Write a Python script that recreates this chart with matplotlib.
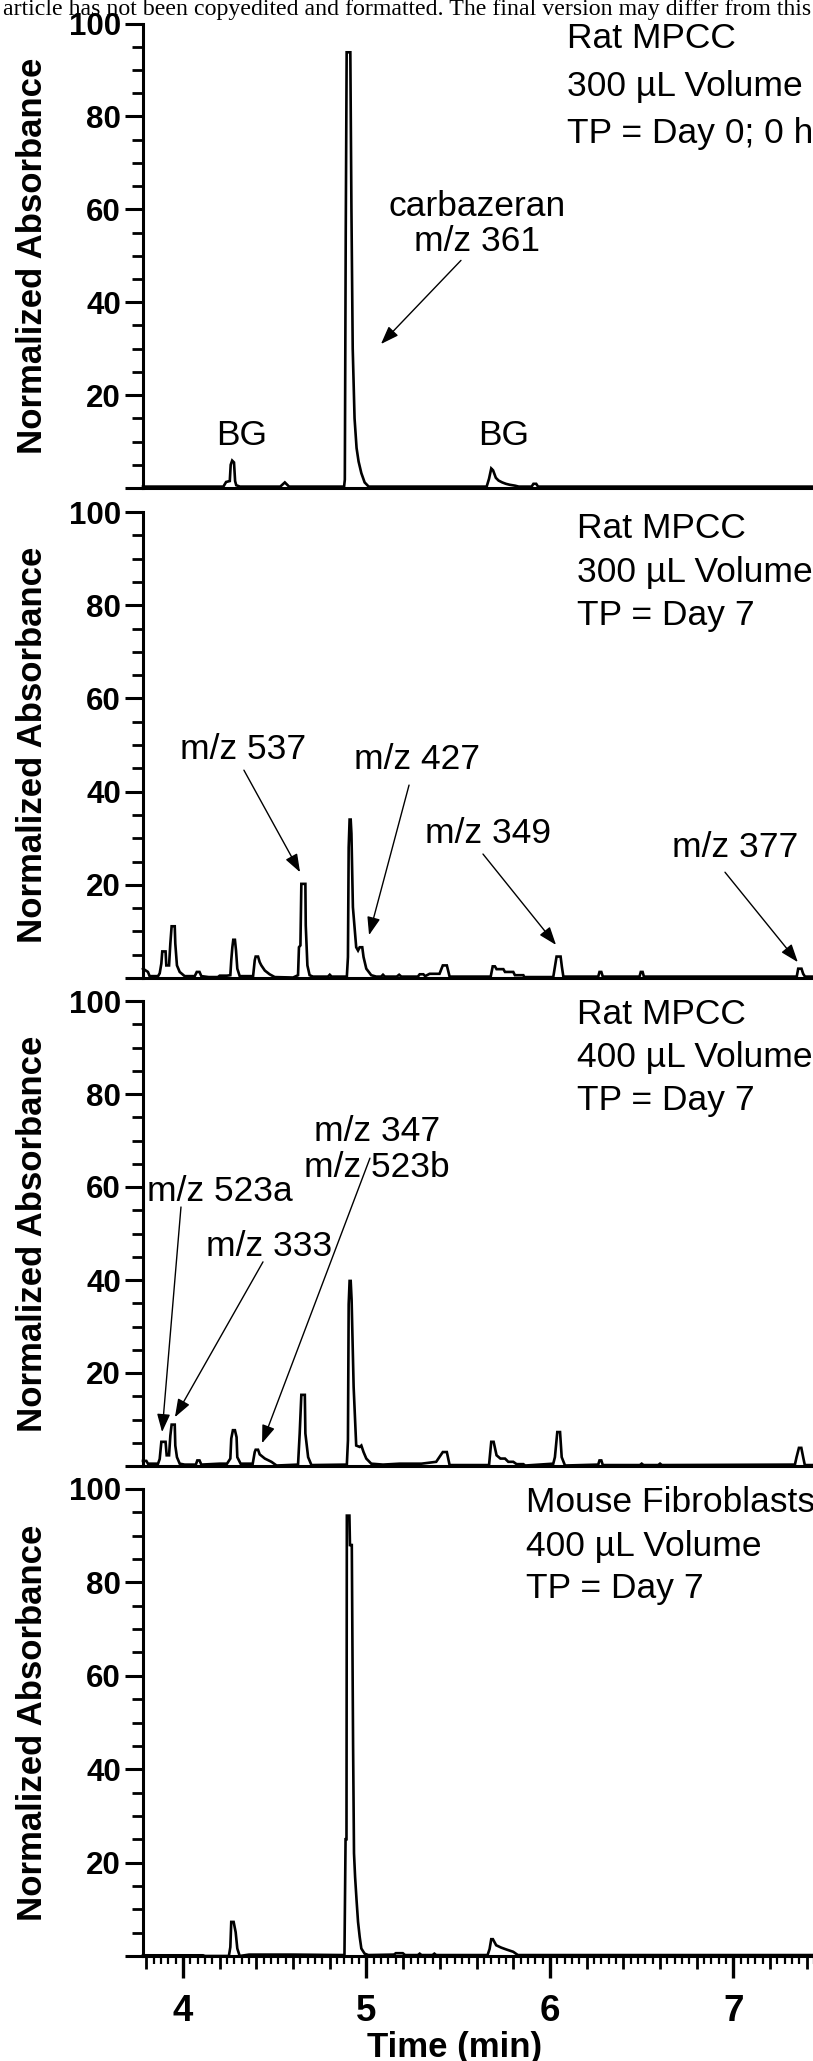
import numpy as np
import matplotlib as mpl
mpl.use("Agg")
import matplotlib.pyplot as plt
from matplotlib.ticker import FixedLocator, MultipleLocator, NullFormatter

W, H = 813, 2061
SANS = "Liberation Sans"

# chromatogram traces: (time min, normalized absorbance)
p1_trace = [(3.782, 0.3), (4.22, 0.3), (4.235, 1.3), (4.255, 1.5), (4.26, 5.0), (4.268, 5.9),
            (4.278, 5.5), (4.284, 1.5), (4.29, 0.6), (4.31, 0.3), (4.53, 0.3), (4.555, 1.2),
            (4.578, 0.3), (4.878, 0.3), (4.882, 1.8), (4.887, 55), (4.892, 93.8), (4.912, 93.8),
            (4.918, 60), (4.925, 30), (4.935, 15), (4.946, 8.6), (4.957, 5.7), (4.972, 3.2),
            (4.99, 1.2), (5.012, 0.3), (5.655, 0.3), (5.668, 2.0), (5.68, 4.2), (5.69, 3.8),
            (5.705, 2.2), (5.72, 1.6), (5.74, 1.2), (5.76, 0.9), (5.78, 0.7), (5.81, 0.5),
            (5.83, 0.3), (5.9, 0.3), (5.91, 0.9), (5.925, 0.9), (5.935, 0.3), (7.45, 0.3)]

p2_trace = [(3.782, 2.0), (3.809, 1.3), (3.818, 0.4), (3.864, 0.4), (3.873, 1.0), (3.882, 3.1),
            (3.887, 5.7), (3.905, 5.7), (3.909, 2.7), (3.924, 2.7), (3.931, 7.4), (3.938, 11.1),
            (3.955, 11.1), (3.958, 7.4), (3.967, 2.7), (3.982, 1.3), (4.009, 0.4), (4.064, 0.4),
            (4.075, 1.3), (4.09, 1.3), (4.1, 0.4), (4.14, 0.2), (4.19, 0.2), (4.2, 0.5),
            (4.24, 0.5), (4.258, 0.6), (4.263, 3.8), (4.269, 6.6), (4.274, 8.2), (4.283, 8.2),
            (4.289, 5.9), (4.296, 2.0), (4.309, 0.4), (4.382, 0.4), (4.391, 3.8), (4.396, 4.6),
            (4.409, 4.6), (4.418, 3.4), (4.427, 2.7), (4.446, 1.6), (4.472, 0.8), (4.5, 0.2),
            (4.6, 0.1), (4.627, 0.6), (4.632, 6.6), (4.64, 7.0), (4.645, 20.2), (4.667, 20.2),
            (4.669, 11.3), (4.678, 2.7), (4.69, 0.6), (4.708, 0.3), (4.79, 0.3), (4.8, 0.7),
            (4.81, 0.3), (4.893, 0.3), (4.899, 4.5), (4.903, 28), (4.908, 34), (4.914, 34),
            (4.918, 31), (4.926, 15.2), (4.944, 6.6), (4.954, 5.9), (4.963, 6.6), (4.977, 6.6),
            (4.984, 4.5), (4.999, 2.0), (5.026, 0.6), (5.053, 0.3), (5.08, 0.3), (5.09, 0.7),
            (5.1, 0.3), (5.165, 0.3), (5.178, 0.7), (5.19, 0.3), (5.28, 0.3), (5.29, 0.8),
            (5.31, 0.8), (5.32, 0.4), (5.344, 0.9), (5.398, 0.9), (5.416, 2.7), (5.438, 2.7),
            (5.453, 0.3), (5.677, 0.3), (5.688, 2.5), (5.7, 2.5), (5.709, 1.9), (5.746, 1.9),
            (5.755, 1.3), (5.8, 1.3), (5.809, 0.6), (5.855, 0.6), (5.86, 0.2), (6.018, 0.2),
            (6.027, 2.4), (6.036, 4.6), (6.058, 4.6), (6.065, 2.4), (6.073, 0.3), (6.263, 0.3),
            (6.27, 1.3), (6.28, 1.3), (6.288, 0.3), (6.488, 0.3), (6.495, 1.3), (6.505, 1.3),
            (6.512, 0.3), (7.345, 0.3), (7.353, 2.0), (7.371, 2.0), (7.38, 0.9), (7.39, 0.3),
            (7.45, 0.3)]

p3_trace = [(3.782, 1.1), (3.8, 1.1), (3.809, 0.5), (3.864, 0.5), (3.873, 1.5), (3.882, 5.2),
            (3.905, 5.2), (3.911, 2.3), (3.924, 2.3), (3.931, 6.5), (3.938, 8.9), (3.955, 8.9),
            (3.958, 4.4), (3.967, 1.9), (3.982, 0.5), (4.009, 0.3), (4.07, 0.3), (4.078, 1.2),
            (4.09, 1.2), (4.1, 0.3), (4.2, 0.5), (4.24, 0.5), (4.258, 1.6), (4.263, 5.9),
            (4.272, 7.7), (4.283, 7.7), (4.292, 6.2), (4.296, 1.9), (4.314, 0.5), (4.38, 0.5),
            (4.391, 3.0), (4.396, 3.5), (4.409, 3.5), (4.418, 2.5), (4.446, 1.6), (4.482, 0.9),
            (4.51, 0.1), (4.627, 0.3), (4.636, 7.0), (4.645, 15.3), (4.664, 15.3), (4.667, 7.0),
            (4.682, 1.9), (4.7, 0.2), (4.893, 0.3), (4.899, 5.5), (4.903, 34.8), (4.908, 39.8),
            (4.914, 39.8), (4.919, 35.7), (4.93, 17.0), (4.944, 4.4), (4.963, 4.1), (4.972, 4.4),
            (4.984, 3.0), (4.999, 1.6), (5.026, 0.5), (5.09, 0.3), (5.18, 0.5), (5.3, 0.5),
            (5.38, 0.9), (5.416, 3.0), (5.438, 3.0), (5.453, 0.2), (5.668, 0.2), (5.68, 5.2),
            (5.693, 5.2), (5.709, 2.3), (5.73, 1.6), (5.755, 1.6), (5.773, 0.9), (5.8, 0.9),
            (5.818, 0.4), (5.855, 0.4), (5.865, 0.1), (6.018, 0.5), (6.027, 1.9), (6.04, 7.3),
            (6.055, 7.3), (6.064, 1.9), (6.082, 0.1), (6.263, 0.3), (6.27, 1.2), (6.28, 1.2),
            (6.288, 0.2), (6.49, 0.2), (6.5, 0.5), (6.51, 0.2), (6.59, 0.2), (6.6, 0.5),
            (6.61, 0.2), (7.335, 0.3), (7.344, 1.9), (7.357, 3.9), (7.37, 3.9), (7.38, 1.9),
            (7.389, 0.2), (7.45, 0.2)]

p4_trace = [(3.782, 0.15), (4.109, 0.15), (4.12, 0.0), (4.25, 0.0), (4.258, 1.9), (4.263, 7.3),
            (4.276, 7.3), (4.287, 5.1), (4.296, 1.6), (4.309, 0.0), (4.36, 0.3), (4.44, 0.3),
            (4.6, 0.3), (4.88, 0.2), (4.886, 25), (4.891, 25), (4.893, 94.3), (4.907, 94.3),
            (4.91, 88), (4.92, 88), (4.927, 45), (4.932, 22), (4.938, 16.9), (4.946, 11.9),
            (4.954, 7.3), (4.963, 4.1), (4.972, 1.6), (4.99, 0.5), (5.01, 0.2), (5.15, 0.3),
            (5.16, 0.6), (5.198, 0.6), (5.21, 0.2), (5.28, 0.2), (5.29, 0.5), (5.3, 0.2),
            (5.36, 0.2), (5.37, 0.5), (5.38, 0.2), (5.66, 0.2), (5.671, 1.5), (5.68, 3.6),
            (5.689, 3.6), (5.707, 2.3), (5.734, 1.8), (5.762, 1.4), (5.8, 0.9), (5.825, 0.2),
            (7.45, 0.2)]

panel_titles = [
    ["Rat MPCC", "300 \u00b5L Volume", "TP = Day 0; 0 h"],
    ["Rat MPCC", "300 \u00b5L Volume", "TP = Day 7"],
    ["Rat MPCC", "400 \u00b5L Volume", "TP = Day 7"],
    ["Mouse Fibroblasts", "400 \u00b5L Volume", "TP = Day 7"],
]
y_ticks = [0, 20, 40, 60, 80, 100]
y_ticklabels = ["", "20", "40", "60", "80", "100"]

fig = plt.figure(figsize=(W / 100, H / 100), dpi=100)

# pixel boxes (top, bottom) of each panel
boxes = [(23.5, 488), (512, 978), (1001, 1466), (1489, 1956)]
left_px, right_px = 143, 816
xmin, xmax = 3.782, 7.45

axes = []
for top, bot in boxes:
    ax = fig.add_axes([left_px / W, 1 - bot / H, (right_px - left_px) / W, (bot - top) / H])
    ax.set_xlim(xmin, xmax)
    ax.set_ylim(0, 100)
    ax.patch.set_alpha(0)
    for s in ["top", "right"]:
        ax.spines[s].set_visible(False)
    for s in ["left", "bottom"]:
        ax.spines[s].set_linewidth(2.2)
    ax.set_yticks(y_ticks)
    ax.set_yticklabels(y_ticklabels, fontsize=22.5, fontweight="bold", family=SANS)
    ax.yaxis.set_minor_locator(MultipleLocator(5))
    ax.tick_params(axis="y", which="major", length=13, width=2.2, pad=3.0, direction="out")
    ax.tick_params(axis="y", which="minor", length=8, width=2.0, direction="out")
    ax.tick_params(axis="x", which="both", length=0, labelbottom=False)
    axes.append(ax)

traces = [p1_trace, p2_trace, p3_trace, p4_trace]
for ax, tr in zip(axes, traces):
    t, a = zip(*tr)
    ax.plot(t, a, color="black", lw=1.9, solid_joinstyle="miter", clip_on=False)

# bottom panel time axis: integer, 0.2 and 0.04 ticks
ax = axes[-1]
mid_locs = [round(v, 2) for v in np.arange(3.8, 7.45, 0.2)]
ax.xaxis.set_major_locator(FixedLocator(mid_locs))
ax.xaxis.set_minor_locator(MultipleLocator(0.04))
ax.xaxis.set_minor_formatter(NullFormatter())
ax.set_xticklabels([str(int(round(v))) if abs(v - round(v)) < 1e-6 else "" for v in mid_locs],
                   fontsize=26.5, fontweight="bold", family=SANS)
ax.tick_params(axis="x", which="major", length=9.5, width=2.0, pad=18, labelbottom=True)
ax.tick_params(axis="x", which="minor", length=5.8, width=1.6)
for v, tick in zip(mid_locs, ax.xaxis.get_major_ticks()):
    if abs(v - round(v)) < 1e-6:
        tick.tick1line.set_markersize(16)
        tick.tick1line.set_markeredgewidth(2.4)

# axis labels
for top, bot in boxes:
    fig.text(33 / W, 1 - (top + bot) / 2 / H, "Normalized Absorbance", rotation=90,
             ha="center", va="center", fontsize=25, fontweight="bold", family=SANS)
fig.text(455 / W, 1 - 2047 / H, "Time (min)", ha="center", va="center",
         fontsize=25, fontweight="bold", family=SANS)

fig.text(0.004, 1 - 9 / H, "article has not been copyedited and formatted. The final version may differ from this",
         ha="left", va="center", fontsize=17.2, family="Liberation Serif", zorder=-5)

# panel header texts
title_x = [6.095, 6.15, 6.15, 5.87]
title_y = [[96.8, 86.5, 76.4], [96.5, 87.1, 77.8], [97.2, 87.8, 78.5], [97.2, 87.6, 78.6]]
for ax, lines, tx, tys in zip(axes, panel_titles, title_x, title_y):
    for s, ty in zip(lines, tys):
        ax.text(tx, ty, s, ha="left", va="center", fontsize=25.5, family=SANS, clip_on=False)

arrow_kw = dict(arrowstyle="-|>,head_length=0.55,head_width=0.2", color="black", lw=1.0,
                mutation_scale=20, shrinkA=0, shrinkB=0)
txt_kw = dict(ha="center", va="center", fontsize=25.5, family=SANS)

ax = axes[0]
ax.text(5.602, 56.8, "carbazeran\nm/z 361", linespacing=1.1, **txt_kw)
ax.annotate("", xy=(5.079, 31), xytext=(5.515, 49), arrowprops=arrow_kw)
ax.text(4.322, 11.2, "BG", **txt_kw)
ax.text(5.749, 11.2, "BG", **txt_kw)

ax = axes[1]
ax.text(4.327, 49.1, "m/z 537", **txt_kw)
ax.annotate("", xy=(4.638, 22.7), xytext=(4.332, 44.6), arrowprops=arrow_kw)
ax.text(5.275, 46.8, "m/z 427", **txt_kw)
ax.annotate("", xy=(5.014, 9.2), xytext=(5.232, 41.4), arrowprops=arrow_kw)
ax.text(5.662, 31.1, "m/z 349", **txt_kw)
ax.annotate("", xy=(6.033, 7.1), xytext=(5.635, 26.6), arrowprops=arrow_kw)
ax.text(7.008, 28.1, "m/z 377", **txt_kw)
ax.annotate("", xy=(7.351, 3.4), xytext=(6.954, 22.7), arrowprops=arrow_kw)

ax = axes[2]
ax.text(4.202, 59.1, "m/z 523a", **txt_kw)
ax.annotate("", xy=(3.886, 7.3), xytext=(3.989, 55.7), arrowprops=arrow_kw)
ax.text(4.469, 47.3, "m/z 333", **txt_kw)
ax.annotate("", xy=(3.956, 10.5), xytext=(4.436, 43.9), arrowprops=arrow_kw)
ax.text(5.057, 68.1, "m/z 347\nm/z 523b", linespacing=1.1, **txt_kw)
ax.annotate("", xy=(4.431, 4.9), xytext=(5.019, 66.2), arrowprops=arrow_kw)

fig.savefig("out.png", dpi=100)
